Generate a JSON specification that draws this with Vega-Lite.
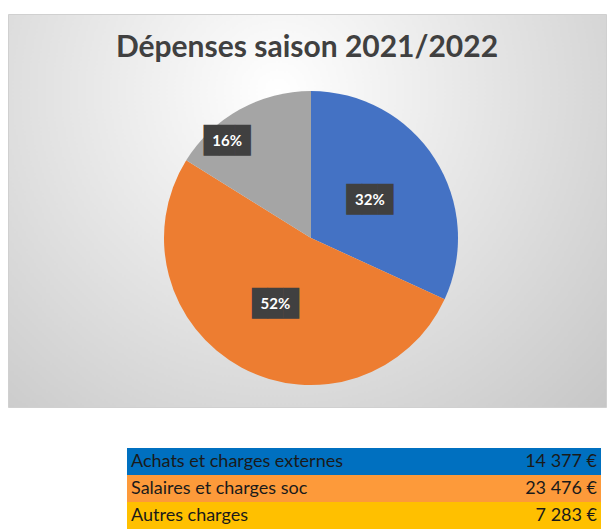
{
  "$schema": "https://vega.github.io/schema/vega-lite/v6.json",
  "padding": {"left": 7, "top": 13, "right": 0, "bottom": 0},
  "background": "#ffffff",
  "data": {
    "values": [
      {"cat": "Achats et charges externes", "value": 14377},
      {"cat": "Salaires et charges soc", "value": 23476},
      {"cat": "Autres charges", "value": 7283}
    ]
  },
  "spacing": 40,
  "resolve": {"scale": {"color": "independent"}},
  "vconcat": [
    {
      "width": 598,
      "height": 393,
      "view": {
        "stroke": "#d0d0d0",
        "fill": {
          "gradient": "radial",
          "x1": 0.45, "y1": 0.3, "r1": 0,
          "x2": 0.45, "y2": 0.3, "r2": 0.8,
          "stops": [
            {"offset": 0, "color": "#ffffff"},
            {"offset": 1, "color": "#c4c4c4"}
          ]
        }
      },
      "title": {
        "text": "Dépenses saison 2021/2022",
        "font": "Lato",
        "fontSize": 30,
        "fontWeight": "bold",
        "color": "#404040",
        "anchor": "middle",
        "baseline": "alphabetic",
        "offset": -73
      },
      "transform": [
        {"window": [{"op": "row_number", "as": "rk"}]},
        {"joinaggregate": [{"op": "sum", "field": "value", "as": "total"}]},
        {"calculate": "datum.value / datum.total", "as": "pct"}
      ],
      "encoding": {
        "theta": {"field": "value", "type": "quantitative", "stack": true},
        "order": {"field": "rk", "type": "quantitative"},
        "detail": {"field": "cat", "type": "nominal"}
      },
      "layer": [
        {
          "mark": {"type": "arc", "outerRadius": 147, "xOffset": 4, "yOffset": 27.5},
          "encoding": {
            "color": {
              "field": "cat",
              "type": "nominal",
              "scale": {
                "domain": ["Achats et charges externes", "Salaires et charges soc", "Autres charges"],
                "range": ["#4472C4", "#ED7D31", "#A5A5A5"]
              },
              "legend": null
            }
          }
        },
        {
          "mark": {
            "type": "text",
            "text": "███",
            "font": "DejaVu Sans Mono",
            "fontSize": 26,
            "color": "#404040",
            "align": "center",
            "baseline": "middle",
            "xOffset": 4,
            "yOffset": 27.5,
            "radius": {"expr": "datum.cat === 'Autres charges' ? 111 : (datum.cat === 'Achats et charges externes' ? 70 : 75)"},
            "dx": {"expr": "datum.cat === 'Autres charges' ? -30 : 0"}
          }
        },
        {
          "mark": {
            "type": "text",
            "font": "Lato",
            "fontSize": 15,
            "fontWeight": "bold",
            "color": "#ffffff",
            "align": "center",
            "baseline": "middle",
            "xOffset": 4,
            "yOffset": 27.5,
            "radius": {"expr": "datum.cat === 'Autres charges' ? 111 : (datum.cat === 'Achats et charges externes' ? 70 : 75)"},
            "dx": {"expr": "datum.cat === 'Autres charges' ? -30 : 0"}
          },
          "encoding": {
            "text": {"field": "pct", "type": "quantitative", "format": ".0%"}
          }
        }
      ]
    },
    {
      "spacing": 0,
      "hconcat": [
        {
          "width": 119,
          "height": 81,
          "data": {"values": []},
          "mark": "point"
        },
        {
          "width": 474,
          "height": 81,
          "encoding": {
            "y": {
              "field": "cat",
              "type": "nominal",
              "sort": null,
              "axis": null,
              "scale": {"paddingInner": 0, "paddingOuter": 0}
            }
          },
          "layer": [
            {
              "mark": {"type": "rect"},
              "encoding": {
                "color": {
                  "field": "cat",
                  "type": "nominal",
                  "scale": {
                    "domain": ["Achats et charges externes", "Salaires et charges soc", "Autres charges"],
                    "range": ["#0070C0", "#FD9A3A", "#FFC000"]
                  },
                  "legend": null
                }
              }
            },
            {
              "mark": {"type": "text", "align": "left", "x": 4, "font": "Lato", "fontSize": 18, "color": "#1a1a1a"},
              "encoding": {"text": {"field": "cat", "type": "nominal"}}
            },
            {
              "mark": {"type": "text", "align": "right", "x": 470, "font": "Lato", "fontSize": 18, "color": "#1a1a1a"},
              "encoding": {"text": {"field": "value", "type": "quantitative", "format": "$,.0f"}}
            }
          ]
        }
      ]
    }
  ],
  "config": {
    "view": {"stroke": null},
    "locale": {
      "number": {
        "decimal": ",",
        "thousands": " ",
        "grouping": [3],
        "currency": ["", " €"]
      }
    }
  }
}
